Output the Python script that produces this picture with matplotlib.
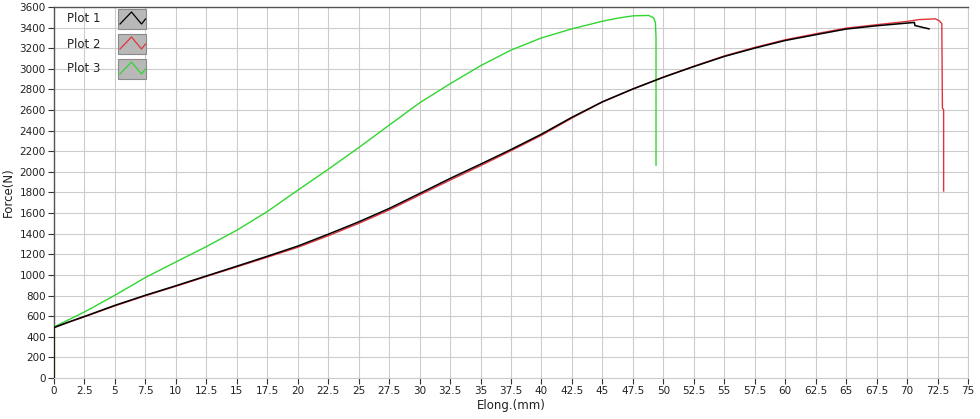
import matplotlib
matplotlib.use("Agg")
import matplotlib.pyplot as plt
from matplotlib.patches import Rectangle
from matplotlib.lines import Line2D

# ---- data ----
plot1_x = [0, 0, 1.25, 2.5, 5, 7.5, 10, 12.5, 15, 17.5, 20, 22.5, 25, 27.5, 30, 32.5, 35,
           37.5, 40, 42.5, 45, 47.5, 50, 52.5, 55, 57.5, 60, 62.5, 65, 67.5, 70, 70.6, 70.65, 71.8]
plot1_y = [0, 490, 545, 597, 705, 803, 895, 990, 1085, 1181, 1280, 1395, 1515, 1645, 1790, 1936, 2075,
           2217, 2366, 2530, 2680, 2805, 2918, 3022, 3120, 3201, 3275, 3331, 3386, 3418, 3444, 3450, 3420, 3388]

plot2_x = [0, 0, 1.25, 2.5, 5, 7.5, 10, 12.5, 15, 17.5, 20, 22.5, 25, 27.5, 30, 32.5, 35,
           37.5, 40, 42.5, 45, 47.5, 50, 52.5, 55, 57.5, 60, 62.5, 65, 67.5, 70, 71, 72.3, 72.6,
           72.85, 72.9, 73.0, 73.0]
plot2_y = [0, 488, 543, 594, 700, 798, 890, 985, 1078, 1172, 1268, 1380, 1500, 1630, 1775, 1920, 2060,
           2205, 2355, 2522, 2678, 2803, 2920, 3025, 3125, 3208, 3282, 3340, 3395, 3428, 3460, 3478, 3485, 3470,
           3440, 2620, 2600, 1815]

plot3_x = [0, 0, 2.5, 5, 7.5, 10, 12.5, 15, 17.5, 20, 22.5, 25, 27.5, 30, 32.5, 35,
           37.5, 40, 42.5, 45, 46.25, 47.5, 48.8, 49.2, 49.35, 49.4, 49.4]
plot3_y = [0, 495, 641, 803, 975, 1126, 1275, 1434, 1615, 1822, 2025, 2235, 2453, 2670, 2855, 3030,
           3182, 3300, 3388, 3462, 3492, 3514, 3518, 3495, 3450, 3300, 2065]

series_names = ["Plot 1", "Plot 2", "Plot 3"]
series_colors = ["#000000", "#e0343c", "#2fd62f"]

x_ticks = [i * 2.5 for i in range(31)]
x_tick_labels = ["0", "2.5", "5", "7.5", "10", "12.5", "15", "17.5", "20", "22.5", "25", "27.5",
                 "30", "32.5", "35", "37.5", "40", "42.5", "45", "47.5", "50", "52.5", "55", "57.5",
                 "60", "62.5", "65", "67.5", "70", "72.5", "75"]
y_ticks = list(range(0, 3601, 200))

W, H = 980, 419
fig = plt.figure(figsize=(W / 100, H / 100), dpi=100)
fig.patch.set_facecolor("white")
L, R, T, B = 54, 968, 7, 378
ax = fig.add_axes([L / W, 1 - B / H, (R - L) / W, (B - T) / H])

ax.plot(plot2_x, plot2_y, color=series_colors[1], lw=1.0, zorder=3)
ax.plot(plot3_x, plot3_y, color=series_colors[2], lw=1.0, zorder=4)
ax.plot(plot1_x, plot1_y, color=series_colors[0], lw=1.1, zorder=5)

ax.set_xlim(0, 75)
ax.set_ylim(0, 3600)
ax.set_xticks(x_ticks)
ax.set_xticklabels(x_tick_labels)
ax.set_yticks(y_ticks)
ax.grid(True, color="#cccccc", lw=0.8, zorder=0)
ax.set_axisbelow(True)

for s in ["top", "left"]:
    ax.spines[s].set_color("#555555")
    ax.spines[s].set_linewidth(1.0)
for s in ["bottom", "right"]:
    ax.spines[s].set_color("#cccccc")
    ax.spines[s].set_linewidth(0.8)

ax.tick_params(axis="both", direction="out", length=4, width=0.8, color="#333333",
               labelsize=7.5, labelcolor="#222222", pad=2)
ax.set_xlabel("Elong.(mm)", fontsize=8.5, color="#222222", labelpad=2)
ax.set_ylabel("Force(N)", fontsize=8.5, color="#222222", labelpad=3)

# ---- legend (custom, LabVIEW style) ----
def fx(px):
    return px / W

def fy(py):
    return 1 - py / H

box_tops = [9, 34, 59]
for name, col, top in zip(series_names, series_colors, box_tops):
    fig.text(fx(67), fy(top + 10), name, fontsize=8.5, color="#222222", va="center", ha="left")
    fig.patches.append(Rectangle((fx(118), fy(top + 20)), fx(28), 20 / H,
                                 transform=fig.transFigure, facecolor="#b8b8b8",
                                 edgecolor="#8a8a8a", lw=0.8, zorder=6))
    zx = [120, 131.5, 141.5, 145.5]
    zy = [top + 15, top + 3, top + 15, top + 10]
    fig.lines.append(Line2D([fx(v) for v in zx], [fy(v) for v in zy],
                            transform=fig.transFigure, color=col, lw=0.9, zorder=7))

fig.savefig("out.png", dpi=100, facecolor="white")
